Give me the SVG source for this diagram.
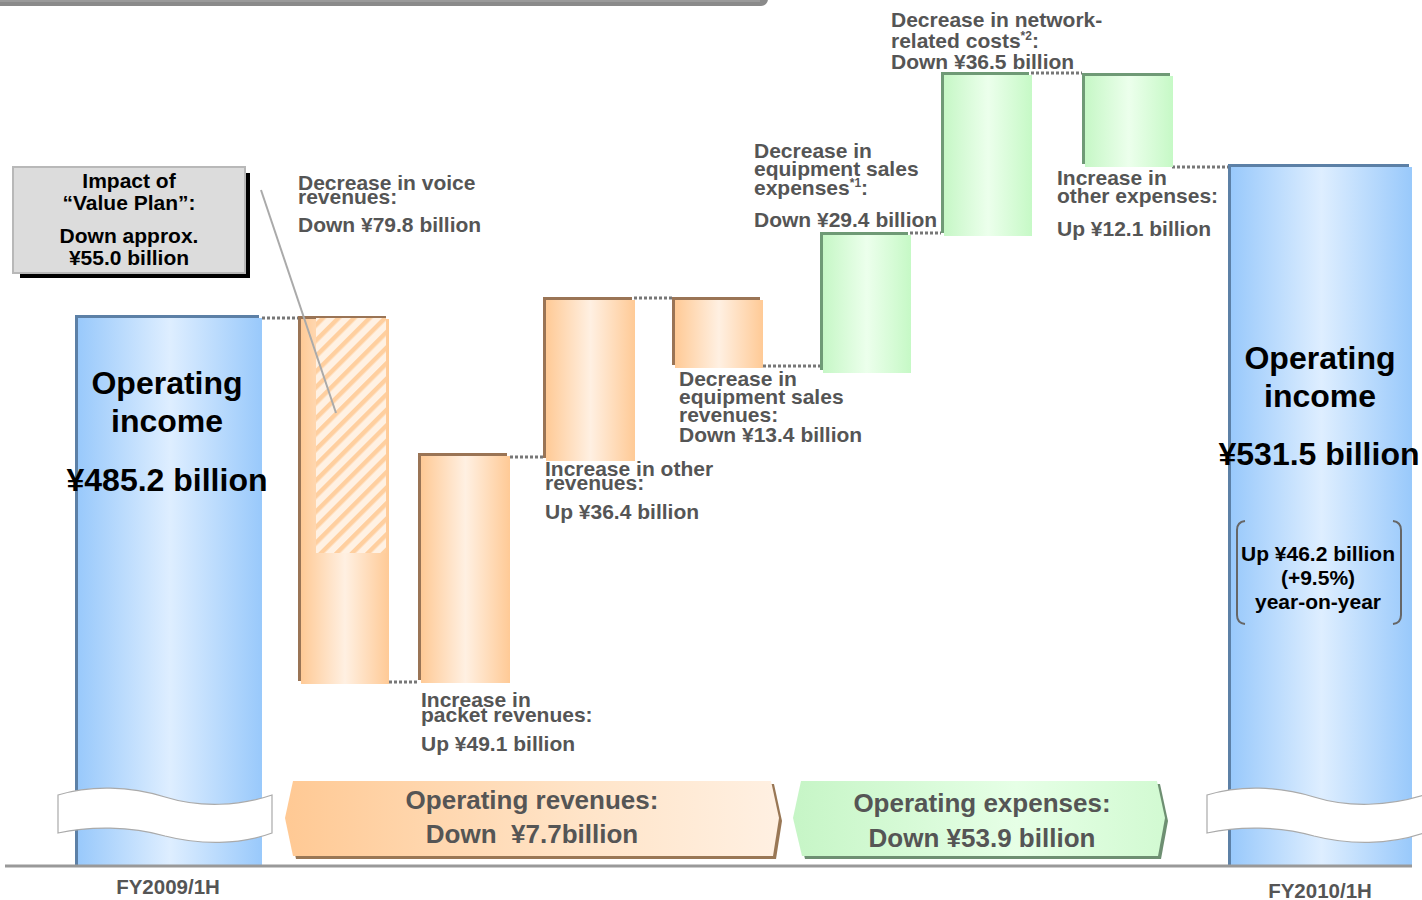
<svg xmlns="http://www.w3.org/2000/svg" width="1422" height="900" viewBox="0 0 1422 900">
<defs>
<linearGradient id="gBlue" x1="0" y1="0" x2="1" y2="0">
<stop offset="0" stop-color="#99c9fb"/><stop offset="0.5" stop-color="#deeeff"/><stop offset="1" stop-color="#99c9fb"/>
</linearGradient>
<linearGradient id="gOrange" x1="0" y1="0" x2="1" y2="0">
<stop offset="0" stop-color="#ffca96"/><stop offset="0.5" stop-color="#fff0e2"/><stop offset="1" stop-color="#ffca96"/>
</linearGradient>
<linearGradient id="gGreen" x1="0" y1="0" x2="1" y2="0">
<stop offset="0" stop-color="#c6f7c6"/><stop offset="0.5" stop-color="#ecffec"/><stop offset="1" stop-color="#c6f9c6"/>
</linearGradient>
<linearGradient id="gBanO" x1="0" y1="0" x2="1" y2="0">
<stop offset="0" stop-color="#ffc994"/><stop offset="0.6" stop-color="#ffe4c8"/><stop offset="1" stop-color="#fff0e2"/>
</linearGradient>
<linearGradient id="gBanG" x1="0" y1="0" x2="1" y2="0">
<stop offset="0" stop-color="#c6f5c6"/><stop offset="0.6" stop-color="#e6ffe6"/><stop offset="1" stop-color="#d2fad2"/>
</linearGradient>
<pattern id="hatch" patternUnits="userSpaceOnUse" width="11" height="11" patternTransform="rotate(45)">
<rect width="11" height="11" fill="#fff1e3"/>
<rect x="0" y="0" width="4.5" height="11" fill="#ffcf9f"/>
</pattern>
</defs>
<style>
.lbl{font-family:"Liberation Sans",Arial,sans-serif;font-weight:bold;font-size:21px;fill:#555}
.big{font-family:"Liberation Sans",Arial,sans-serif;font-weight:bold;font-size:32px;fill:#000;text-anchor:middle}
.box{font-family:"Liberation Sans",Arial,sans-serif;font-weight:bold;font-size:21px;fill:#000;text-anchor:middle}
.ban{font-family:"Liberation Sans",Arial,sans-serif;font-weight:bold;font-size:26px;fill:#555;text-anchor:middle}
.fy{font-family:"Liberation Sans",Arial,sans-serif;font-weight:bold;font-size:20.5px;fill:#555;text-anchor:middle}
.sup{font-size:12px}
.dotc{stroke:#777;stroke-width:3;stroke-dasharray:3 2;fill:none}
.edO{fill:#9a7455}.edG{fill:#6f9a76}.edB{fill:#5c80a6}
.brk{fill:#fff;stroke:#aaa;stroke-width:1.2}
</style>

<g id="topbar">
<rect x="-10" y="-20" width="778" height="26" rx="7" fill="#8a8a8a"/>
<line x1="0" y1="1" x2="760" y2="1" stroke="#aaa" stroke-width="1"/>
</g>

<g id="connectors">
<line class="dotc" x1="262" y1="318" x2="298" y2="318"/>
<line class="dotc" x1="389" y1="682" x2="418" y2="682"/>
<line class="dotc" x1="510" y1="457" x2="543" y2="457"/>
<line class="dotc" x1="634" y1="298" x2="672" y2="298"/>
<line class="dotc" x1="763" y1="366" x2="820" y2="366"/>
<line class="dotc" x1="910" y1="233" x2="941" y2="233"/>
<line class="dotc" x1="1031" y1="73" x2="1082" y2="73"/>
<line class="dotc" x1="1172" y1="167" x2="1228" y2="167"/>
</g>

<g id="bar-start">
<rect class="edB" x="75" y="315" width="184" height="551"/>
<rect x="78" y="318" width="184" height="548" fill="url(#gBlue)"/>
<path class="brk" d="M58,795 C90,785 130,786 165,797 C200,808 240,806 272,795 L272,833 C240,845 200,845 165,836 C130,826 90,826 58,833 Z"/>
<text class="big" x="167" y="394">Operating</text>
<text class="big" x="167" y="432">income</text>
<text class="big" x="167" y="491">¥485.2 billion</text>
</g>

<g id="bar-voice">
<rect class="edO" x="298" y="316" width="88" height="365"/>
<rect x="301" y="319" width="88" height="365" fill="url(#gOrange)"/>
<rect x="316" y="318" width="70" height="235" fill="url(#hatch)"/>
<text class="lbl" x="298" y="190">Decrease in voice</text>
<text class="lbl" x="298" y="204">revenues:</text>
<text class="lbl" x="298" y="232">Down ¥79.8 billion</text>
</g>

<g id="bar-packet">
<rect class="edO" x="418" y="453" width="89" height="227"/>
<rect x="421" y="456" width="89" height="227" fill="url(#gOrange)"/>
<text class="lbl" x="421" y="707">Increase in</text>
<text class="lbl" x="421" y="722">packet revenues:</text>
<text class="lbl" x="421" y="751">Up ¥49.1 billion</text>
</g>

<g id="bar-other-rev">
<rect class="edO" x="543" y="297" width="89" height="161"/>
<rect x="546" y="300" width="89" height="161" fill="url(#gOrange)"/>
<text class="lbl" x="545" y="476">Increase in other</text>
<text class="lbl" x="545" y="490">revenues:</text>
<text class="lbl" x="545" y="519">Up ¥36.4 billion</text>
</g>

<g id="bar-equip-rev">
<rect class="edO" x="672" y="297" width="88" height="68"/>
<rect x="675" y="300" width="88" height="68" fill="url(#gOrange)"/>
<text class="lbl" x="679" y="386">Decrease in</text>
<text class="lbl" x="679" y="404">equipment sales</text>
<text class="lbl" x="679" y="422">revenues:</text>
<text class="lbl" x="679" y="442">Down ¥13.4 billion</text>
</g>

<g id="bar-equip-exp">
<rect class="edG" x="820" y="232" width="88" height="138"/>
<rect x="823" y="235" width="88" height="138" fill="url(#gGreen)"/>
<text class="lbl" x="754" y="158">Decrease in</text>
<text class="lbl" x="754" y="176">equipment sales</text>
<text class="lbl" x="754" y="195">expenses<tspan class="sup" dy="-8">*1</tspan><tspan dy="8">:</tspan></text>
<text class="lbl" x="754" y="227">Down ¥29.4 billion</text>
</g>

<g id="bar-network">
<rect class="edG" x="941" y="72" width="88" height="161"/>
<rect x="944" y="75" width="88" height="161" fill="url(#gGreen)"/>
<text class="lbl" x="891" y="27">Decrease in network-</text>
<text class="lbl" x="891" y="48">related costs<tspan class="sup" dy="-8">*2</tspan><tspan dy="8">:</tspan></text>
<text class="lbl" x="891" y="69">Down ¥36.5 billion</text>
</g>

<g id="bar-other-exp">
<rect class="edG" x="1082" y="73" width="88" height="91"/>
<rect x="1085" y="76" width="88" height="91" fill="url(#gGreen)"/>
<text class="lbl" x="1057" y="185">Increase in</text>
<text class="lbl" x="1057" y="203">other expenses:</text>
<text class="lbl" x="1057" y="236">Up ¥12.1 billion</text>
</g>

<g id="bar-end">
<rect class="edB" x="1228" y="164" width="181" height="702"/>
<rect x="1231" y="167" width="181" height="699" fill="url(#gBlue)"/>
<path class="brk" d="M1207,795 C1239,785 1279,786 1314,797 C1349,808 1389,806 1424,795 L1424,833 C1389,845 1349,845 1314,836 C1279,826 1239,826 1207,833 Z"/>
<text class="big" x="1320" y="369">Operating</text>
<text class="big" x="1320" y="407">income</text>
<text class="big" x="1319" y="465">¥531.5 billion</text>
<path d="M1245,521 Q1237,522 1237,530 L1237,615 Q1237,623 1245,624" fill="none" stroke="#666" stroke-width="2"/>
<path d="M1393,521 Q1401,522 1401,530 L1401,615 Q1401,623 1393,624" fill="none" stroke="#666" stroke-width="2"/>
<text class="box" x="1318" y="561" font-size="20">Up ¥46.2 billion</text>
<text class="box" x="1318" y="585" font-size="20">(+9.5%)</text>
<text class="box" x="1318" y="609" font-size="20">year-on-year</text>
</g>

<g id="impact-box">
<rect x="20" y="173" width="230" height="105" fill="#000"/>
<rect x="13" y="167" width="232" height="106" fill="#dcdcdc" stroke="#b8b8b8" stroke-width="2"/>
<text class="box" x="129" y="188">Impact of</text>
<text class="box" x="129" y="210">“Value Plan”:</text>
<text class="box" x="129" y="243">Down approx.</text>
<text class="box" x="129" y="265">¥55.0 billion</text>
<line x1="261" y1="190" x2="336" y2="413" stroke="#aaa" stroke-width="2"/>
</g>

<g id="banner-revenues">
<polygon points="296,784 774,784 782,821 776,859 296,859 288,821" fill="#997755"/>
<polygon points="293,781 771,781 779,818 773,856 293,856 285,818" fill="url(#gBanO)"/>
<text class="ban" x="532" y="809">Operating revenues:</text>
<text class="ban" x="532" y="843" xml:space="preserve">Down  ¥7.7billion</text>
</g>

<g id="banner-expenses">
<polygon points="804,784 1160,784 1168,821 1161,859 805,859 796,821" fill="#6e8f72"/>
<polygon points="801,781 1157,781 1165,818 1158,856 802,856 793,818" fill="url(#gBanG)"/>
<text class="ban" x="982" y="812">Operating expenses:</text>
<text class="ban" x="982" y="847">Down ¥53.9 billion</text>
</g>

<g id="baseline">
<line x1="5" y1="866" x2="1412" y2="866" stroke="#999" stroke-width="3"/>
<text class="fy" x="168" y="894">FY2009/1H</text>
<text class="fy" x="1320" y="898">FY2010/1H</text>
</g>
</svg>
